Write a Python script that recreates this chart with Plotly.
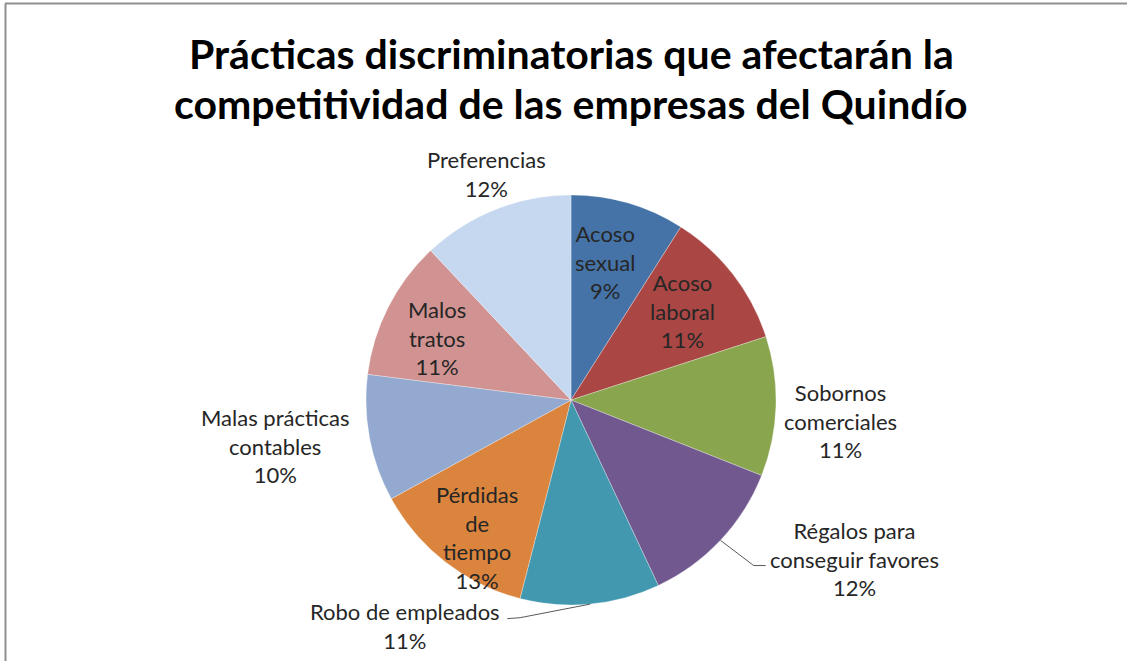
import math
import plotly.graph_objects as go

# ---------------- data ----------------
categories = [
    "Acoso sexual", "Acoso laboral", "Sobornos comerciales",
    "Régalos para conseguir favores", "Robo de empleados",
    "Pérdidas de tiempo", "Malas prácticas contables",
    "Malos tratos", "Preferencias",
]
values = [9, 11, 11, 12, 11, 13, 10, 11, 12]
label_lines = [
    ["Acoso", "sexual"], ["Acoso", "laboral"], ["Sobornos", "comerciales"],
    ["Régalos para", "conseguir favores"], ["Robo de empleados"],
    ["Pérdidas", "de", "tiempo"], ["Malas prácticas", "contables"],
    ["Malos", "tratos"], ["Preferencias"],
]
title_lines = ["Prácticas discriminatorias que afectarán la",
               "competitividad de las empresas del Quindío"]

# ---------------- style ----------------
colors = ["#4573A7", "#AA4644", "#89A54E", "#71588F", "#4198AF",
          "#DB843D", "#93A9CF", "#D19392", "#C6D8EF"]
W, H = 1127, 661
CX, CY, R = 571, 400, 205          # pixel centre / radius of the pie
# label placement: (radial distance in px, angle nudge in degrees)
label_place = [(142, -2.4), (143, -0.7), (270, 2.7), (325, -14.0),
               (280, 41.7), (167, -3.5), (300, 2.0), (148, -2.2), (241, 1.2)]
# leader lines: (elbow offset, end offset) relative to label centre, px
leaders = {3: ((-101, 7), (-89, 7)), 4: ((115, -8), (102, -7))}

def px(x):
    return x / W

def py(y):
    return 1 - y / H

fig = go.Figure()
fig.add_trace(go.Pie(
    labels=categories, values=values, sort=False, direction="clockwise",
    rotation=0, textinfo="none", hoverinfo="label+percent",
    marker=dict(colors=colors, line=dict(color="rgba(255,255,255,0.6)", width=0.5)),
    domain=dict(x=[px(CX - R), px(CX + R)], y=[py(CY + R), py(CY - R)]),
    showlegend=False,
))

total = sum(values)
cum = 0
annotations = []
shapes = []
for i, v in enumerate(values):
    mid = (cum + v / 2) / total * 360
    cum += v
    r, d = label_place[i]
    a = math.radians(mid + d)
    lx = CX + r * math.sin(a)
    ly = CY - r * math.cos(a)
    pct = round(v / total * 100)
    text = "<br>".join(label_lines[i] + [f"{pct}%"])
    annotations.append(dict(
        x=px(lx), y=py(ly), xref="paper", yref="paper", text=text,
        showarrow=False, xanchor="center", yanchor="middle", align="center",
        font=dict(family="Lato", size=22, color="#262626"),
    ))
    if i in leaders:
        am = math.radians(mid)
        sx = CX + R * math.sin(am)
        sy = CY - R * math.cos(am)
        (ex1, ey1), (ex2, ey2) = leaders[i]
        path = (f"M {px(sx)} {py(sy)} L {px(lx + ex1)} {py(ly + ey1)} "
                f"L {px(lx + ex2)} {py(ly + ey2)}")
        shapes.append(dict(type="path", path=path, xref="paper", yref="paper",
                           line=dict(color="#595959", width=1)))

# title (two lines)
for k, (t, yy) in enumerate(zip(title_lines, [53, 104])):
    annotations.append(dict(
        x=px(571), y=py(yy), xref="paper", yref="paper", text=f"<b>{t}</b>",
        showarrow=False, xanchor="center", yanchor="middle",
        font=dict(family="Lato", size=41, color="#000000"),
    ))

# chart frame (top and left edges)
shapes.append(dict(type="line", xref="paper", yref="paper",
                   x0=px(5), x1=1, y0=py(3.5), y1=py(3.5),
                   line=dict(color="#8f8f8f", width=2)))
shapes.append(dict(type="line", xref="paper", yref="paper",
                   x0=px(5.5), x1=px(5.5), y0=py(3.5), y1=0,
                   line=dict(color="#8f8f8f", width=2)))

fig.update_layout(
    width=W, height=H, margin=dict(l=0, r=0, t=0, b=0),
    paper_bgcolor="white", plot_bgcolor="white",
    annotations=annotations, shapes=shapes,
)
fig.write_html("out.html")
